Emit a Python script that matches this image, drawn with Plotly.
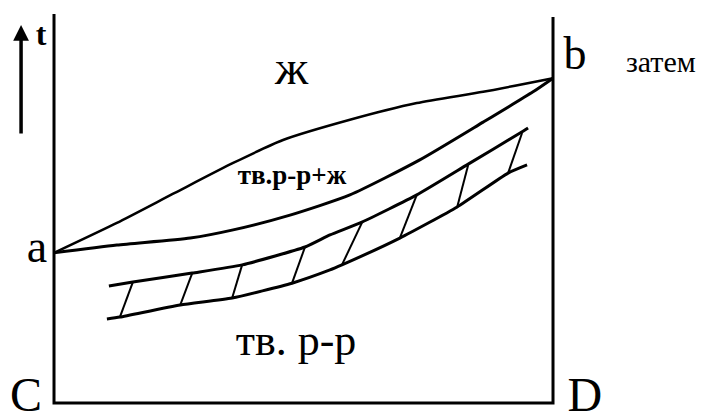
import plotly.graph_objects as go

# composition (% of B) and temperature (arbitrary units)
liquidus_x = [0, 12.6, 24.2, 35.9, 45.9, 59.3, 72.7, 86.0, 100]
liquidus_t = [38.6, 46.3, 54.0, 61.7, 67.6, 72.8, 77.1, 80.0, 83.5]

solidus_x = [0, 12.6, 27.3, 35.9, 47.3, 59.3, 73.3, 86.0, 96.0, 100]
solidus_t = [38.6, 40.6, 42.4, 44.5, 48.3, 53.5, 62.5, 72.2, 80.0, 83.5]

band_top_x = [11.0, 15.8, 27.7, 37.7, 50.3, 55.3, 61.7, 72.7, 83.0, 93.4, 95.0]
band_top_t = [30.1, 31.1, 33.4, 35.5, 40.1, 43.2, 46.5, 53.5, 61.4, 69.4, 70.7]

band_bot_x = [10.6, 13.2, 25.3, 35.7, 47.7, 55.3, 57.7, 69.3, 80.8, 91.0, 94.8]
band_bot_t = [21.6, 22.1, 25.2, 27.0, 30.8, 34.2, 35.5, 42.4, 50.4, 59.1, 61.2]

# hatch strokes: (top x, bottom x, top t, bottom t)
hatch_top_x = [15.8, 27.7, 37.7, 50.3, 61.7, 72.7, 83.0, 93.8]
hatch_bot_x = [13.2, 25.3, 35.7, 47.7, 57.7, 69.3, 80.8, 91.0]
hatch_top_t = [31.1, 33.4, 35.5, 40.1, 46.3, 53.5, 61.2, 69.4]
hatch_bot_t = [22.1, 25.2, 27.0, 30.8, 35.5, 42.4, 50.4, 59.1]

frame_x = [0, 0, 100, 100]
frame_t = [100, 0, 0, 99.2]

arrow_x = [-6.6, -6.6]
arrow_t = [68.9, 97.2]

labels = ["ж", "<b>тв.р-р+ж</b>", "тв. р-р", "затем", "a", "b", "C", "D", "<b>t</b>"]
label_x = [47.6, 47.7, 48.5, 121.6, -3.4, 104.4, -5.6, 106.4, -2.6]
label_t = [85.0, 58.1, 15.2, 86.9, 39.1, 88.7, 1.0, 1.0, 94.1]
label_size = [48, 27, 44, 30, 46, 46, 48, 48, 32]

SERIF = "Liberation Serif"

fig = go.Figure()

fig.add_trace(go.Scatter(x=frame_x, y=frame_t, mode="lines",
                         line=dict(color="black", width=3)))
fig.add_trace(go.Scatter(x=liquidus_x, y=liquidus_t, mode="lines",
                         line=dict(color="black", width=2.5, shape="spline", smoothing=0.6)))
fig.add_trace(go.Scatter(x=solidus_x, y=solidus_t, mode="lines",
                         line=dict(color="black", width=3, shape="spline", smoothing=0.6)))
fig.add_trace(go.Scatter(x=band_top_x, y=band_top_t, mode="lines",
                         line=dict(color="black", width=3, shape="spline", smoothing=0.5)))
fig.add_trace(go.Scatter(x=band_bot_x, y=band_bot_t, mode="lines",
                         line=dict(color="black", width=3, shape="spline", smoothing=0.5)))

# hatching between the two band lines
hx, ht = [], []
for x0, x1, t0, t1 in zip(hatch_top_x, hatch_bot_x, hatch_top_t, hatch_bot_t):
    hx += [x0, x1, None]
    ht += [t0, t1, None]
fig.add_trace(go.Scatter(x=hx, y=ht, mode="lines",
                         line=dict(color="black", width=2)))

# region and point labels
fig.add_trace(go.Scatter(x=label_x, y=label_t, mode="text", text=labels,
                         textposition="middle center",
                         textfont=dict(family=SERIF, size=label_size, color="black")))

# temperature arrow
fig.add_annotation(x=arrow_x[1], y=arrow_t[1], ax=arrow_x[0], ay=arrow_t[0],
                   xref="x", yref="y", axref="x", ayref="y",
                   text="", showarrow=True, arrowhead=2, arrowsize=0.9,
                   arrowwidth=3.5, arrowcolor="black")

# page body has an 8px margin, so the figure is 8px smaller each way
fig.update_xaxes(range=[-9.22, 130.46], visible=False)
fig.update_yaxes(range=[-2.31, 101.54], visible=False)
fig.update_layout(width=697, height=404, margin=dict(l=0, r=0, t=0, b=0),
                  font=dict(family=SERIF),
                  plot_bgcolor="white", paper_bgcolor="white", showlegend=False)

fig.write_html("out.html")
